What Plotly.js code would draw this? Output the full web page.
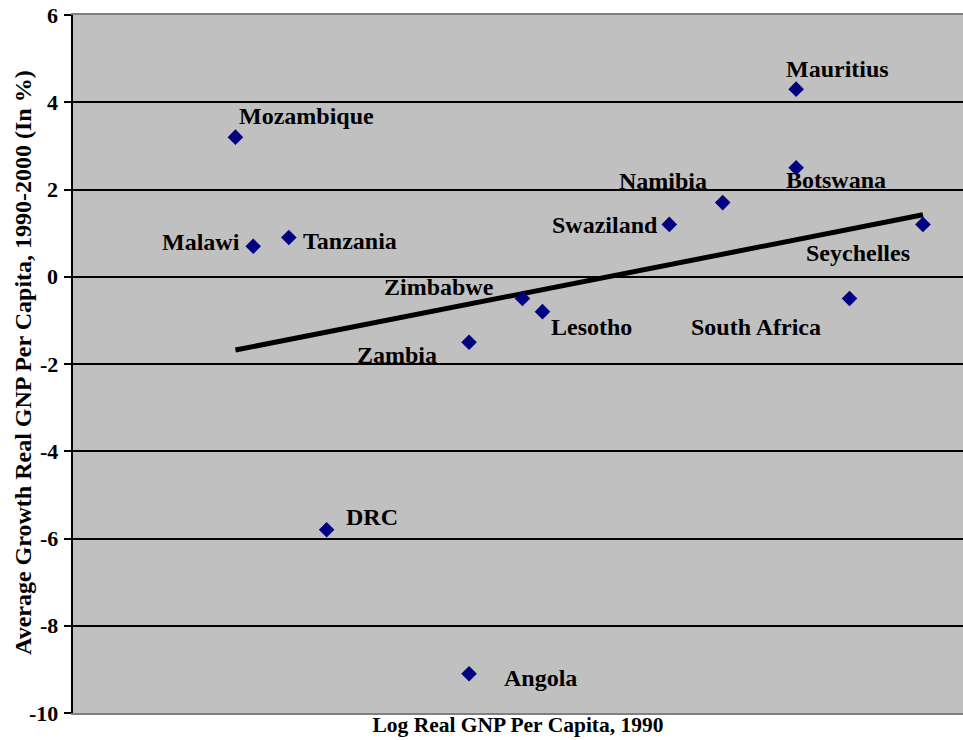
<!DOCTYPE html>
<html>
<head>
<meta charset="utf-8">
<script src="https://cdn.plot.ly/plotly-3.0.1.min.js"></script>
<style>html,body{margin:0;padding:0;background:#fff;}#chart{width:963px;height:740px;}</style>
</head>
<body>
<div id="chart"></div>
<script>
// Country names
const countries = ["Mozambique","Malawi","Tanzania","DRC","Angola","Zambia","Zimbabwe","Lesotho","Swaziland","Namibia","Botswana","Mauritius","South Africa","Seychelles"];
// Log real GNP per capita, 1990 (x on an unlabeled scale)
const logGNP = [5.73, 5.81, 5.97, 6.14, 6.78, 6.78, 7.02, 7.11, 7.68, 7.92, 8.25, 8.25, 8.49, 8.82];
// Average growth real GNP per capita 1990-2000 (%)
const growth = [3.2, 0.7, 0.9, -5.8, -9.1, -1.5, -0.5, -0.8, 1.2, 1.7, 2.5, 4.3, -0.5, 1.2];
// Trend line endpoints
const trendX = [5.73, 8.82];
const trendY = [-1.68, 1.42];
// Y tick values and labels
const yTicks = [-10, -8, -6, -4, -2, 0, 2, 4, 6];
const yTickLabels = ["-10", "-8", "-6", "-4", "-2", "0", "2", "4", "6"];

// label placement (pixel offsets from the marker)
const labelPos = {
  "Mozambique": {anchor:"left",  dx: 2,   dy: 21},
  "Malawi":     {anchor:"right", dx: -11, dy: 4},
  "Tanzania":   {anchor:"left",  dx: 12,  dy: -4},
  "DRC":        {anchor:"left",  dx: 17,  dy: 13},
  "Angola":     {anchor:"left",  dx: 33,  dy: -4},
  "Zambia":     {anchor:"right", dx: -30, dy: -13},
  "Zimbabwe":   {anchor:"right", dx: -26, dy: 12},
  "Lesotho":    {anchor:"left",  dx: 7,   dy: -15},
  "Swaziland":  {anchor:"right", dx: -9,  dy: -1},
  "Namibia":    {anchor:"right", dx: -14, dy: 22},
  "Botswana":   {anchor:"left",  dx: -12, dy: -12},
  "Mauritius":  {anchor:"left",  dx: -12, dy: 20},
  "South Africa":{anchor:"right",dx: -27, dy: -28},
  "Seychelles": {anchor:"right", dx: -11, dy: -29}
};

const FONT = "Liberation Serif";

const annotations = countries.map((c, i) => ({
  x: logGNP[i], y: growth[i], xref: "x", yref: "y",
  text: "<b>" + c + "</b>", showarrow: false,
  xanchor: labelPos[c].anchor, yanchor: "middle",
  xshift: labelPos[c].dx, yshift: labelPos[c].dy,
  font: {family: FONT, size: 24, color: "#000"}
}));

// y tick labels (bold) placed on the y scale
yTicks.forEach((v, i) => {
  annotations.push({
    xref: "paper", yref: "y", x: 0, y: v, xanchor: "right", yanchor: "middle",
    xshift: -13, showarrow: false, text: "<b>" + yTickLabels[i] + "</b>",
    font: {family: FONT, size: 22, color: "#000"}
  });
});

// y-axis title as a rotated annotation
annotations.push({
  xref: "paper", yref: "paper", x: -0.0562, y: 0.503,
  xanchor: "center", yanchor: "middle", textangle: -90, showarrow: false,
  text: "<b>Average Growth Real GNP Per Capita, 1990-2000 (In %)</b>",
  font: {family: FONT, size: 24, color: "#000"}
});

const traces = [
  {
    x: trendX, y: trendY, type: "scatter", mode: "lines",
    line: {color: "#000", width: 5}, hoverinfo: "skip", showlegend: false
  },
  {
    x: logGNP, y: growth, type: "scatter", mode: "markers", text: countries,
    marker: {symbol: "diamond", size: 12, color: "#000080", line: {width: 0}},
    showlegend: false
  }
];

const layout = {
  width: 963, height: 740,
  margin: {l: 73, r: 0, t: 15, b: 27},
  paper_bgcolor: "#ffffff",
  plot_bgcolor: "#C0C0C0",
  showlegend: false,
  font: {family: FONT, color: "#000"},
  xaxis: {
    range: [5, 9], showticklabels: false, ticks: "", showgrid: false, zeroline: false,
    showline: true, linecolor: "#808080", linewidth: 2, mirror: true,
    title: {text: "<b>Log Real GNP Per Capita, 1990</b>", font: {family: FONT, size: 21.5}, standoff: 3}
  },
  yaxis: {
    range: [-10, 6], tickvals: yTicks, showticklabels: false,
    ticks: "outside", ticklen: 7, tickwidth: 2, tickcolor: "#000",
    showline: true, linecolor: "#000", linewidth: 2,
    showgrid: true, gridcolor: "#000", gridwidth: 2, zeroline: false,
    automargin: false
  },
  annotations: annotations
};

Plotly.newPlot("chart", traces, layout, {displayModeBar: false, staticPlot: true});
</script>
</body>
</html>
